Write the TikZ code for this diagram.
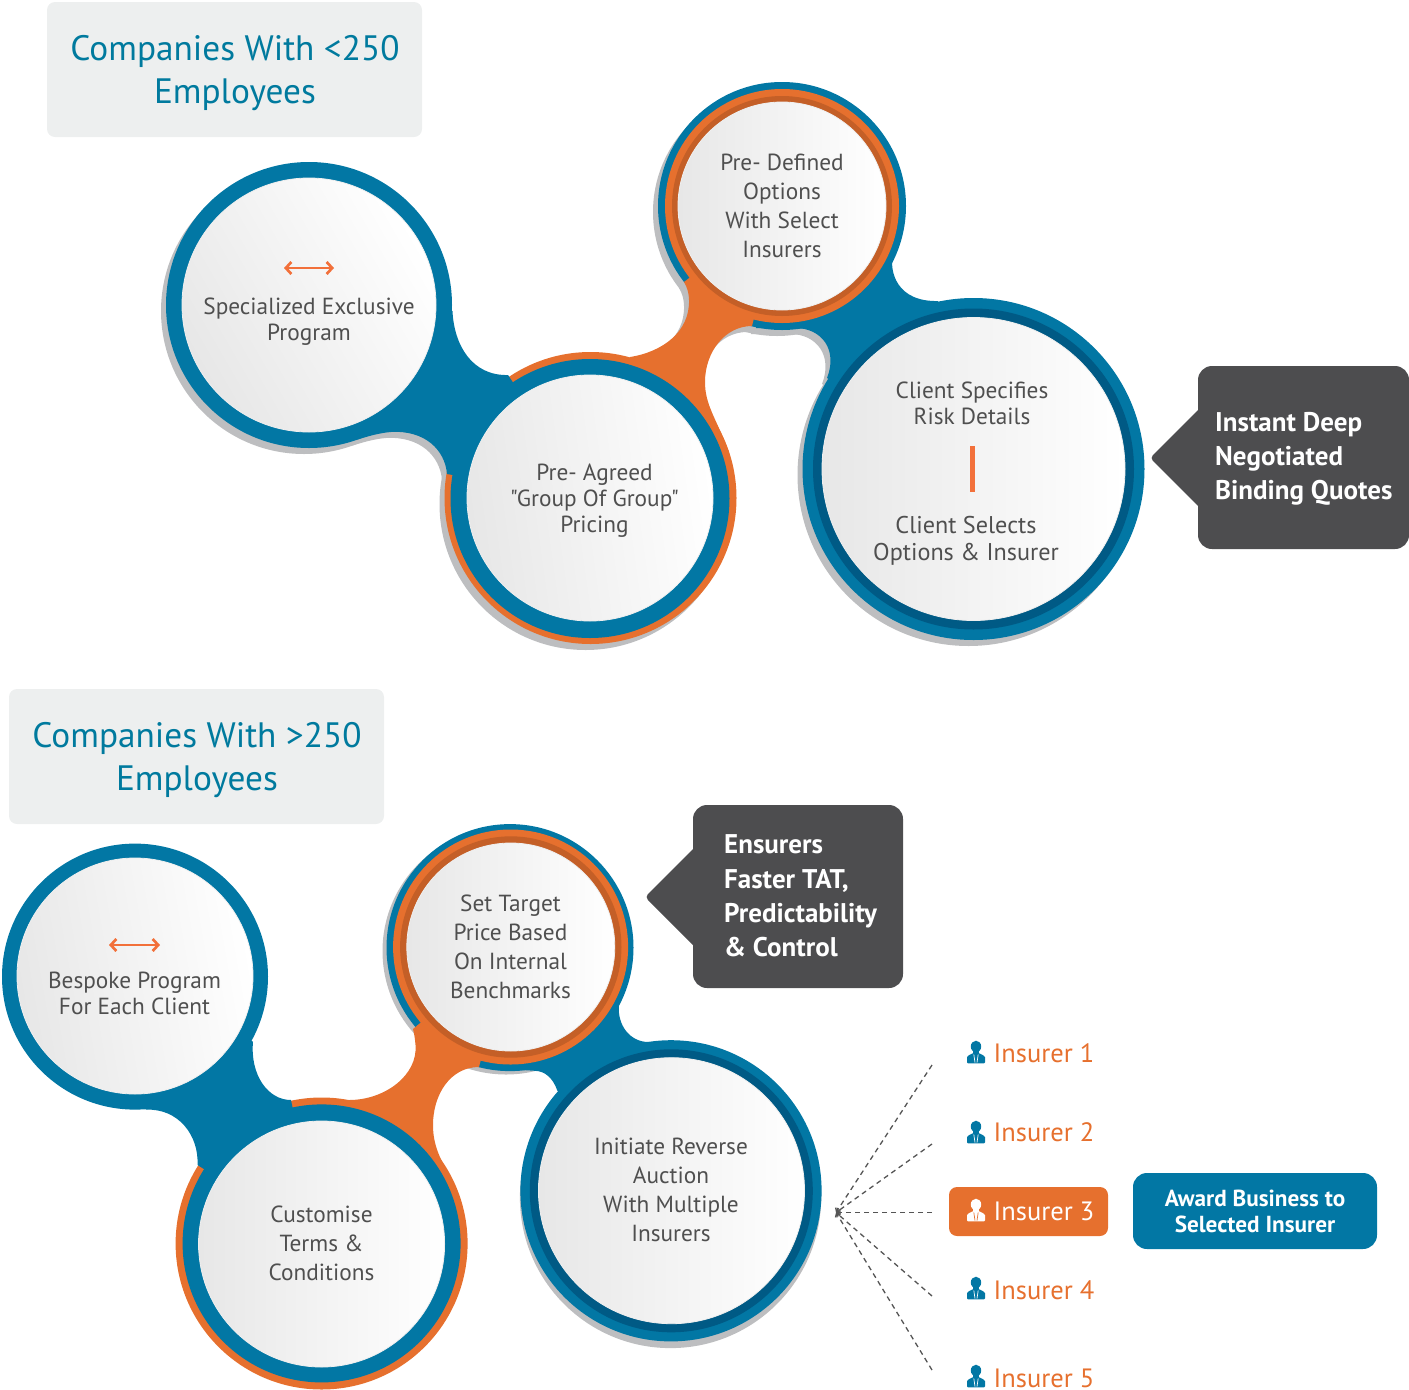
\documentclass[tikz,border=0pt]{standalone}
\usepackage{fontspec}
\setmainfont[Ligatures=TeXOff]{PT Sans}
\usetikzlibrary{arrows.meta}
\definecolor{teal1}{HTML}{0277A4}
\definecolor{teal2}{HTML}{005A85}
\definecolor{titleteal}{HTML}{007A9E}
\definecolor{org1}{HTML}{E6702E}
\definecolor{org2}{HTML}{C45F27}
\definecolor{org3}{HTML}{F2703A}
\definecolor{shgrey}{HTML}{BDBEC0}
\definecolor{boxgrey}{HTML}{EDEFEF}
\definecolor{darkbox}{HTML}{4D4D4F}
\definecolor{txtgrey}{HTML}{4F4F4F}
\definecolor{dashgrey}{HTML}{555555}
\definecolor{discgrey}{HTML}{E7E7E7}
\definecolor{discrim}{HTML}{EFEFEF}
\tikzset{
  disc/.style={top color=discgrey,bottom color=white,shading angle=#1,draw=discrim,line width=.8pt},
  disctext/.style={font=\fontsize{23.3}{#1}\selectfont,align=center,text=txtgrey,inner sep=0pt},
  titletext/.style={font=\fontsize{35.3}{43}\selectfont,align=center,text=titleteal,inner sep=0pt},
  calltext/.style={font=\fontsize{27}{34.2}\selectfont\bfseries,align=left,text=white,inner sep=0pt,anchor=west},
  instext/.style={font=\fontsize{26.5}{30}\selectfont,inner sep=0pt,anchor=base west},
  dashconn/.style={draw=dashgrey,line width=1.3pt,dash pattern=on 5pt off 4pt,-{Straight Barb[length=3pt,width=6pt]}},
  twohead/.style={draw=org3,line width=2.7pt,{Straight Barb[length=5.5pt,width=12pt]}-{Straight Barb[length=5.5pt,width=12pt]}},
  pics/person/.style 2 args={code={
    \fill[#1] (0,-5.5) ellipse [x radius=5.2,y radius=5.8];
    \fill[#1] (-3,-2) rectangle (3,2);
    \fill[#1,rounded corners=1pt] (-9,11.3) -- (-9,6) .. controls (-9,3.5) and (-6,3) .. (-3,1) -- (3,1) .. controls (6,3) and (9,3.5) .. (9,6) -- (9,11.3) -- cycle;
    \draw[#2,line width=.7pt] (-2.2,2.5) -- (-1,10.5) (2.2,2.5) -- (1,10.5);
  }}
}
\def\pAB{(452.5,311) .. controls (454,345) and (472,376) .. (508,375) -- (590,498) -- (447,474) .. controls (445,450) and (425,430) .. (391,432) .. controls (378,433) and (366,437) .. (356,440) -- (309,305) -- cycle}
\def\pBC{(630,357) .. controls (662,352) and (690,332) .. (689,300) .. controls (689,293) and (687,287) .. (684,282) -- (782,206) -- (752,326) .. controls (725,326) and (705,352) .. (705,382) .. controls (705,405) and (716,418) .. (729,452) -- (590,498) -- cycle}
\def\pCD{(893,254) .. controls (889,272) and (897,302) .. (938,301) -- (973.5,469) -- (827,378) .. controls (838,350) and (822,328) .. (795,328) -- (756,328) -- (782,206) -- cycle}
\def\qAB{(253,1041.7) .. controls (250,1075) and (268,1100) .. (291,1100) -- (321.6,1243.5) -- (197.5,1165) .. controls (199,1135) and (178,1108) .. (145.6,1109.7) -- (135,976.6) -- cycle}
\def\qBC{(349,1100) .. controls (385,1100) and (418,1075) .. (415.5,1045) .. controls (415,1038) and (414,1033) .. (413,1029) -- (510.6,947) -- (479,1067) .. controls (450,1067) and (433,1095) .. (433,1125) .. controls (433,1145) and (440,1158) .. (448,1173) -- (321.6,1243.5) -- cycle}
\def\qCD{(619,1005) .. controls (617,1025) and (630,1042) .. (648.5,1042) -- (671,1190) -- (557.4,1090.8) .. controls (553,1078) and (545,1071) .. (534.7,1070.8) -- (479,1067) -- (510,947) -- cycle}
\begin{document}
\begin{tikzpicture}[x=1pt,y=-1pt]
\path[use as bounding box] (0,0) rectangle (1409,1390);

% title boxes
\fill[boxgrey,rounded corners=8pt] (47,2) rectangle (422,137);
\node[titletext] (t1) at (235,73) {Companies With <250\\Employees};
\fill[boxgrey,rounded corners=8pt] (9,689) rectangle (384,824);
\node[titletext] (t2) at (197,760) {Companies With >250\\Employees};

% ---- upper group: shadow
\begin{scope}[shift={(-5,6)}]
  \fill[shgrey] (309,305) circle [radius=143];
  \fill[shgrey] (590.5,498) circle [radius=146];
  \fill[shgrey] (782,206) circle [radius=124];
  \fill[shgrey] (973.5,469) circle [radius=171];
  \fill[shgrey] \pAB;
  \fill[shgrey] \pBC;
  \fill[shgrey] \pCD;
\end{scope}
% rings and links
\fill[org1] (590.5,498) circle [radius=146];
\fill[teal1] (782,206) circle [radius=124];
\fill[teal1] \pCD;
\fill[teal1] (973.5,469) circle [radius=171];
\fill[org1] \pBC;
\fill[org1] (782,206) circle [radius=117];
\fill[teal1] \pAB;
\fill[teal1] (309,305) circle [radius=143];
\fill[teal1] (590,498.5) circle [radius=139.5];
\fill[org2] (782,206) circle [radius=110];
\fill[teal2] (973.5,469) circle [radius=160.5];
% discs
\shadedraw[disc=120] (309,305) circle [radius=127];
\shadedraw[disc=98] (590,498) circle [radius=123];
\shadedraw[disc=90] (782,206) circle [radius=104];
\shadedraw[disc=90] (973.5,469) circle [radius=151.5];

\coordinate (a1) at (284,268);
\coordinate (a2) at (334,268);
\draw[twohead] (a1) -- (a2);
\node[disctext=26] (l1) at (309,322) {Specialized Exclusive\\Program};
\node[disctext=26] (l2) at (594.5,501) {Pre- Agreed\\"Group Of Group"\\Pricing};
\node[disctext=29] (l3) at (782,205.5) {Pre- Defined\\Options\\With Select\\Insurers};
\node[disctext=26] (l4a) at (972,403) {Client Specifies\\Risk Details};
\node[disctext=27,font=\fontsize{24.2}{27}\selectfont] (l4b) at (966,541) {Client Selects\\Options \& Insurer};
\fill[org3] (969.5,445.5) rectangle (975,492);

% callout 1
\fill[darkbox,rounded corners=14pt] (1198,366) rectangle (1409,549);
\fill[darkbox,rounded corners=4pt] (1212,396) -- (1150,458) -- (1212,520) -- cycle;
\node[calltext] (c1) at (1215,459) {Instant Deep\\Negotiated\\Binding Quotes};

% ---- lower group: shadow
\fill[shgrey] (506,951) circle [radius=123.5];
\fill[shgrey] (670.5,1197.5) circle [radius=150.6];
% rings and links
\fill[org1] (321.6,1243.5) circle [radius=146];
\fill[teal1] (510,947.6) circle [radius=123.5];
\fill[teal1] \qCD;
\fill[teal1] (671,1190.8) circle [radius=150.6];
\fill[org1] \qBC;
\fill[org1] (510.6,947) circle [radius=117.5];
\fill[teal1] \qAB;
\fill[teal1] (135,976.6) circle [radius=133];
\fill[teal1] (321.6,1243.4) circle [radius=139];
\fill[org2] (510.8,947) circle [radius=110.7];
\fill[teal2] (671.3,1190.8) circle [radius=141.5];
% discs
\shadedraw[disc=100] (135,976) circle [radius=118];
\shadedraw[disc=90] (321.6,1244) circle [radius=123];
\shadedraw[disc=90] (510.8,947) circle [radius=104];
\shadedraw[disc=90] (671.5,1190.7) circle [radius=133];

\coordinate (b1) at (109,945);
\coordinate (b2) at (160,945);
\draw[twohead] (b1) -- (b2);
\node[disctext=26] (m1) at (134.5,993.5) {Bespoke Program\\For Each Client};
\node[disctext=29] (m2) at (321.5,1243) {Customise\\Terms \&\\Conditions};
\node[disctext=29] (m3) at (510.5,947) {Set Target\\Price Based\\On Internal\\Benchmarks};
\node[disctext=29] (m4) at (671,1190) {Initiate Reverse\\Auction\\With Multiple\\Insurers};

% callout 2
\fill[darkbox,rounded corners=14pt] (693,805) rectangle (903,988);
\fill[darkbox,rounded corners=4pt] (707,835) -- (645,897) -- (707,959) -- cycle;
\node[calltext] (c2) at (724,896) {Ensurers\\Faster TAT,\\Predictability\\\& Control};

% fan of dashed lines
\coordinate (hub) at (836,1212.5);
\coordinate (e1) at (932,1065);
\coordinate (e2) at (932,1144);
\coordinate (e3) at (932,1212.5);
\coordinate (e4) at (932,1296);
\coordinate (e5) at (932,1370);
\foreach \e in {e1,e2,e3,e4,e5} \draw[dashconn] (\e) -- (hub);

% insurers
\fill[org1,rounded corners=8pt] (949,1187) rectangle (1108,1236);
\pic at (976,1052) {person={teal1}{white}};
\pic at (976,1132) {person={teal1}{white}};
\pic at (976,1210) {person={white}{org1}};
\pic at (976,1288) {person={teal1}{white}};
\pic at (976,1376) {person={teal1}{white}};
\node[instext,text=org1] (i1) at (993.5,1062) {Insurer 1};
\node[instext,text=org1] (i2) at (993.5,1141) {Insurer 2};
\node[instext,text=white] (i3) at (993.5,1220) {Insurer 3};
\node[instext,text=org1] (i4) at (993.5,1299) {Insurer 4};
\node[instext,text=org1] (i5) at (993.5,1387) {Insurer 5};

% award
\fill[teal1,rounded corners=14pt] (1133,1173) rectangle (1377,1249);
\node[font=\fontsize{23.2}{26}\selectfont\bfseries,align=center,text=white,inner sep=0pt] (aw) at (1255,1211) {Award Business to\\Selected Insurer};
\end{tikzpicture}
\end{document}
